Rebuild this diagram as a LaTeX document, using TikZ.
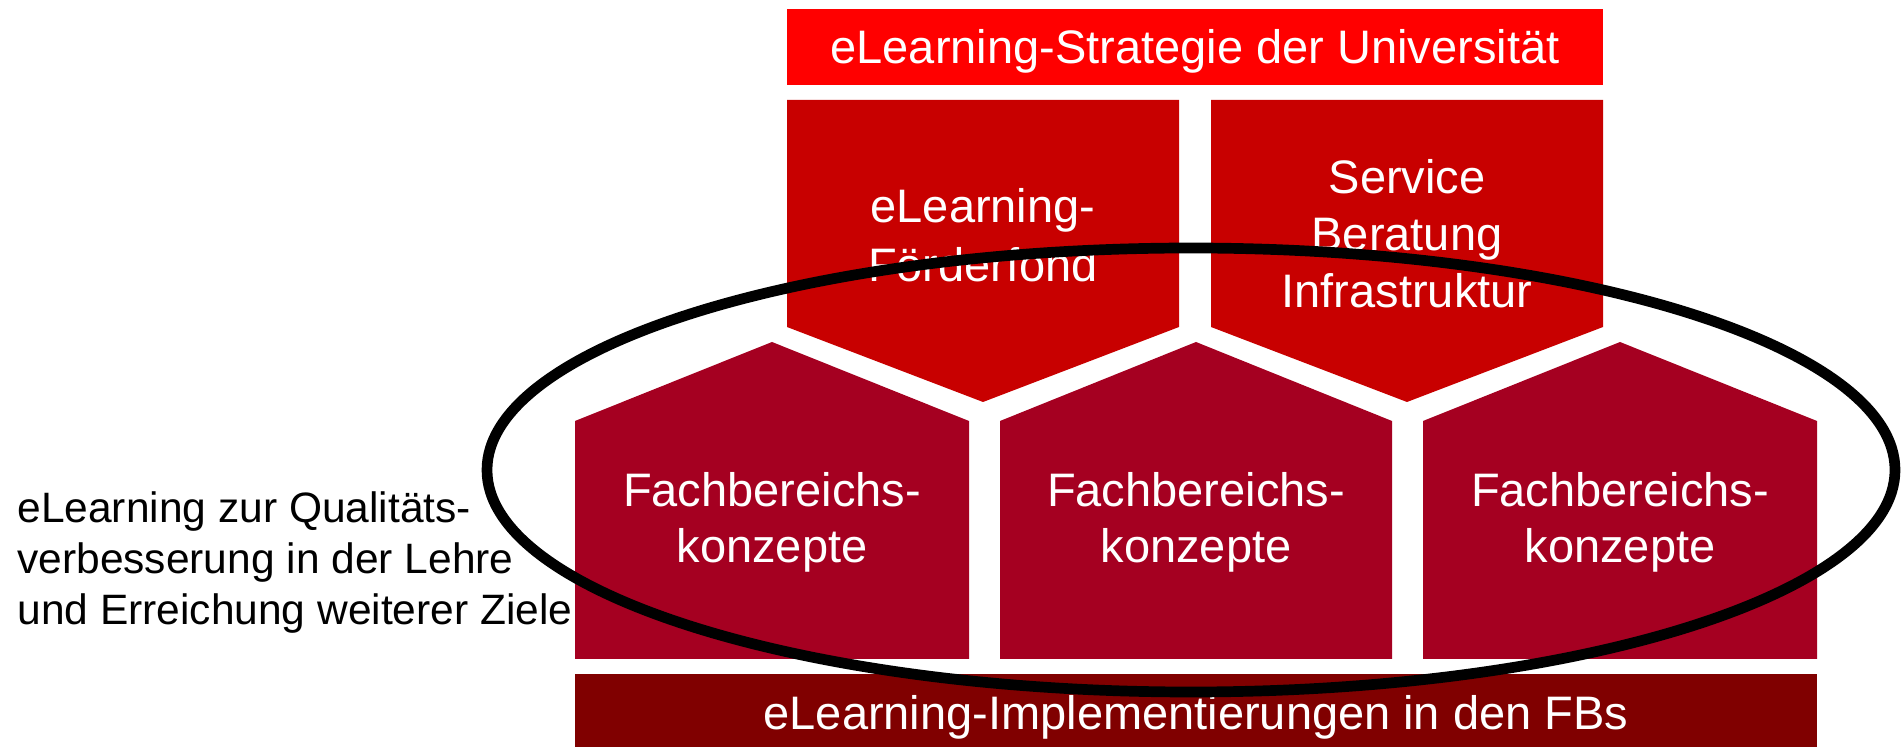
\documentclass[tikz,border=0pt]{standalone}
\usepackage{fontspec}
\setmainfont{Liberation Sans}
\definecolor{topred}{HTML}{FF0000}
\definecolor{upred}{HTML}{C80000}
\definecolor{lowred}{HTML}{A50021}
\definecolor{darkred}{HTML}{800000}
\begin{document}
\begin{tikzpicture}[x=0.5pt,y=-0.5pt,
  lbl/.style={text=white,font=\fontsize{23.5pt}{28.5pt}\selectfont,align=center,inner sep=0pt,anchor=base},
  side/.style={text=black,font=\fontsize{21.25pt}{25.5pt}\selectfont,align=left,inner sep=0pt,anchor=base west},
  ring/.style={draw=black,line width=5.35pt}]
\useasboundingbox (0,0) rectangle (1901,747);
% top bar
\fill[topred] (787,9) rectangle (1603,85);
% upper pentagons
\fill[upred] (787,100) -- (1179,100) -- (1179,327) -- (983,402) -- (787,327) -- cycle;
\fill[upred] (1211,100) -- (1603,100) -- (1603,327) -- (1407,402) -- (1211,327) -- cycle;
% lower pentagons
\fill[lowred] (575,659) -- (575,421) -- (772,342) -- (969,421) -- (969,659) -- cycle;
\fill[lowred] (1000,659) -- (1000,421) -- (1196,342) -- (1392,421) -- (1392,659) -- cycle;
\fill[lowred] (1423,659) -- (1423,421) -- (1620,342) -- (1817,421) -- (1817,659) -- cycle;
% bottom bar
\fill[darkred] (575,674) rectangle (1817,747);
% texts (base anchor = baseline of last line)
\node[lbl] (strat) at (1195,64) {eLearning-Strategie der Universität};
\node[lbl,font=\fontsize{23.5pt}{29.5pt}\selectfont] (fond) at (983,282) {eLearning-\\Förderfond};
\node[lbl] (serv) at (1407,308) {Service\\Beratung\\Infrastruktur};
\node[lbl,font=\fontsize{23.5pt}{28pt}\selectfont] (fb1) at (772,563) {Fachbereichs-\\konzepte};
\node[lbl,font=\fontsize{23.5pt}{28pt}\selectfont] (fb2) at (1196,563) {Fachbereichs-\\konzepte};
\node[lbl,font=\fontsize{23.5pt}{28pt}\selectfont] (fb3) at (1620,563) {Fachbereichs-\\konzepte};
\node[lbl] (impl) at (1196,730) {eLearning-Implementierungen in den FBs};
\node[side] (goal) at (17,625) {eLearning zur Qualitäts-\\verbesserung in der Lehre\\und Erreichung weiterer Ziele};
% ellipse
\draw[ring] (1191,470) ellipse [x radius=704,y radius=222];
\end{tikzpicture}
\end{document}
